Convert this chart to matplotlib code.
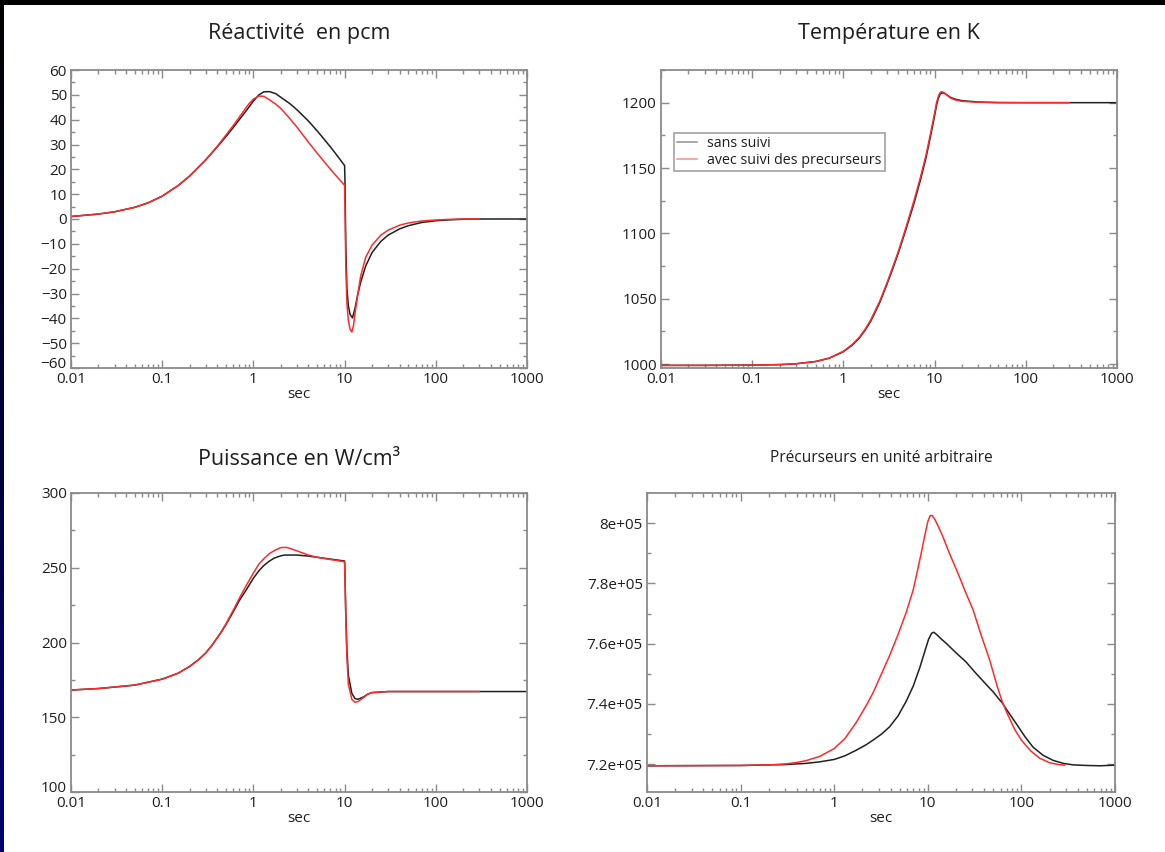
import numpy as np
import matplotlib
matplotlib.use("Agg")
import matplotlib.pyplot as plt
from matplotlib.ticker import LogLocator, NullFormatter
from matplotlib.transforms import ScaledTranslation

plt.rcParams['font.family'] = ['Open Sans', 'DejaVu Sans']

# -----------------------------
# data
# -----------------------------
x_ticks = [0.01, 0.1, 1, 10, 100, 1000]
x_tick_labels = ["0.01", "0.1", "1", "10", "100", "1000"]

# Réactivité (pcm)
reac_t_black = [0.01, 0.02, 0.03, 0.05, 0.07, 0.1, 0.15, 0.2, 0.3, 0.4, 0.5, 0.6, 0.7, 0.85, 1.0, 1.15,
                1.3, 1.5, 1.75, 2.0, 2.5, 3.0, 4.0, 5.0, 6.0, 7.0, 8.5, 10.0, 10.1, 10.3, 10.6, 11.0,
                11.5, 12.2, 13.0, 14.0, 15.0, 17.0, 20.0, 25.0, 30.0, 40.0, 50.0, 70.0, 100.0, 150.0,
                200.0, 300.0, 1000.0]
reac_black = [1.0, 2.0, 2.9, 4.7, 6.5, 9.2, 13.5, 17.3, 23.8, 29.0, 33.2, 36.8, 40.0, 44.0, 47.5, 50.0,
              51.2, 51.3, 50.5, 49.0, 46.5, 44.0, 39.5, 35.5, 32.0, 29.0, 25.0, 21.5, 15.0, -10.0, -28.0,
              -35.0, -38.5, -39.8, -36.0, -30.0, -25.5, -19.0, -13.5, -9.0, -6.5, -4.0, -2.7, -1.4,
              -0.7, -0.3, -0.1, 0.0, 0.0]
reac_t_red = [0.01, 0.02, 0.03, 0.05, 0.07, 0.1, 0.15, 0.2, 0.3, 0.4, 0.5, 0.6, 0.7, 0.8, 0.9, 1.0,
              1.15, 1.3, 1.5, 1.75, 2.0, 2.5, 3.0, 4.0, 5.0, 6.0, 7.0, 8.5, 10.0, 10.1, 10.3, 10.6,
              11.0, 11.5, 12.0, 12.5, 13.0, 14.0, 15.0, 17.0, 20.0, 25.0, 30.0, 40.0, 50.0, 70.0,
              100.0, 150.0, 200.0, 300.0]
reac_red = [1.0, 2.0, 2.9, 4.7, 6.5, 9.2, 13.5, 17.3, 23.8, 29.2, 33.8, 37.6, 41.0, 44.0, 46.5, 48.3,
            49.5, 49.4, 48.0, 46.3, 44.5, 40.5, 37.0, 31.0, 26.5, 23.0, 20.0, 16.5, 13.5, 5.0, -18.0,
            -34.0, -41.0, -44.5, -45.5, -43.0, -38.0, -30.0, -23.0, -15.5, -10.5, -6.5, -4.5, -2.5,
            -1.6, -0.8, -0.4, -0.1, 0.0, 0.0]

# Température (K)
temp_t_black = [0.01, 0.03, 0.1, 0.2, 0.3, 0.5, 0.7, 1.0, 1.25, 1.5, 1.75, 2.0, 2.5, 3.0, 3.5, 4.0,
                4.5, 5.0, 6.0, 7.0, 8.0, 9.0, 10.0, 10.5, 11.0, 11.5, 12.0, 12.7, 13.5, 15.0, 17.0,
                20.0, 25.0, 30.0, 50.0, 100.0, 300.0, 1000.0]
temp_black = [999.0, 999.0, 999.2, 999.6, 1000.2, 1002.0, 1004.5, 1009.5, 1014.5, 1020.0, 1026.5,
              1033.0, 1047.0, 1061.0, 1073.5, 1085.0, 1096.0, 1106.0, 1124.0, 1141.0, 1157.0,
              1174.0, 1190.0, 1198.0, 1203.5, 1206.5, 1207.5, 1207.3, 1206.2, 1204.0, 1202.6,
              1201.5, 1201.0, 1200.5, 1200.1, 1200.0, 1200.0, 1200.0]
temp_t_red = [0.01, 0.03, 0.1, 0.2, 0.3, 0.5, 0.7, 1.0, 1.25, 1.5, 1.75, 2.0, 2.5, 3.0, 3.5, 4.0,
              4.5, 5.0, 6.0, 7.0, 8.0, 9.0, 10.0, 10.5, 11.0, 11.5, 12.0, 12.7, 13.5, 15.0, 17.0,
              20.0, 25.0, 30.0, 50.0, 100.0, 300.0]
temp_red = [999.0, 999.0, 999.2, 999.6, 1000.2, 1002.0, 1004.6, 1009.8, 1015.0, 1020.6, 1027.2,
            1034.0, 1048.0, 1062.0, 1074.8, 1086.2, 1097.3, 1107.5, 1126.0, 1143.0, 1159.0,
            1176.0, 1192.0, 1200.0, 1205.0, 1207.8, 1208.5, 1207.6, 1206.0, 1203.5, 1202.0,
            1201.0, 1200.6, 1200.3, 1200.0, 1200.0, 1200.0]

# Puissance (W/cm3)
puis_t_black = [0.01, 0.02, 0.05, 0.1, 0.15, 0.2, 0.25, 0.3, 0.35, 0.4, 0.45, 0.5, 0.6, 0.7, 0.85,
                1.0, 1.15, 1.3, 1.5, 1.7, 2.0, 2.2, 3.0, 4.0, 5.0, 7.0, 10.0, 10.1, 10.3, 10.6, 11.0,
                12.0, 13.0, 14.0, 16.0, 18.0, 20.0, 30.0, 1000.0]
puis_black = [168.2, 169.2, 171.5, 175.5, 179.5, 184.0, 188.5, 193.0, 198.0, 203.0, 207.5, 212.0,
              220.5, 228.0, 236.0, 243.0, 248.0, 251.5, 254.5, 256.5, 258.0, 258.5, 258.5, 257.8,
              257.0, 255.8, 254.5, 245.0, 220.0, 195.0, 178.0, 166.0, 162.5, 162.0, 163.5, 165.5,
              166.5, 167.2, 167.2]
puis_t_red = [0.01, 0.02, 0.05, 0.1, 0.15, 0.2, 0.25, 0.3, 0.35, 0.4, 0.45, 0.5, 0.6, 0.7, 0.85,
              1.0, 1.15, 1.3, 1.5, 1.7, 2.0, 2.3, 2.5, 3.0, 4.0, 5.0, 7.0, 10.0, 10.1, 10.3, 10.6,
              11.0, 12.0, 13.0, 14.0, 16.0, 18.0, 20.0, 30.0, 300.0]
puis_red = [168.2, 169.2, 171.5, 175.5, 179.5, 184.0, 188.5, 193.0, 198.0, 203.0, 207.8, 212.5,
            221.5, 229.5, 239.0, 246.5, 252.5, 256.0, 259.5, 261.5, 263.5, 263.6, 263.0, 261.3,
            258.5, 257.0, 255.5, 254.0, 244.0, 218.0, 190.0, 172.0, 162.0, 160.0, 160.5, 163.0,
            165.5, 166.5, 167.2, 167.2]

# Précurseurs (unité arbitraire)
prec_t_black = [0.01, 0.1, 0.3, 0.5, 0.7, 1.0, 1.3, 1.73, 2.2, 2.6, 3.2, 3.9, 4.8, 5.9, 7.0, 8.2,
                9.3, 10.2, 11.0, 11.6, 12.5, 14.0, 15.9, 20.0, 25.5, 32.0, 42.0, 50.0, 58.0, 62.0,
                70.0, 88.0, 110.0, 133.0, 170.0, 218.0, 280.0, 357.0, 500.0, 690.0, 1000.0]
prec_black = [7.195e5, 7.196e5, 7.199e5, 7.203e5, 7.208e5, 7.216e5, 7.228e5, 7.247e5, 7.265e5,
              7.28e5, 7.30e5, 7.324e5, 7.36e5, 7.41e5, 7.46e5, 7.52e5, 7.575e5, 7.615e5, 7.635e5,
              7.638e5, 7.63e5, 7.615e5, 7.60e5, 7.57e5, 7.54e5, 7.505e5, 7.465e5, 7.44e5, 7.415e5,
              7.405e5, 7.38e5, 7.335e5, 7.29e5, 7.257e5, 7.23e5, 7.213e5, 7.203e5, 7.198e5,
              7.196e5, 7.195e5, 7.197e5]
prec_t_red = [0.01, 0.1, 0.2, 0.3, 0.4, 0.5, 0.7, 1.0, 1.3, 1.73, 2.2, 2.6, 3.2, 3.9, 4.8, 5.9,
              7.0, 7.6, 8.5, 9.3, 10.0, 10.6, 11.2, 12.0, 12.9, 14.5, 16.5, 19.0, 21.7, 25.0, 30.5,
              37.0, 45.8, 55.0, 62.0, 69.0, 85.0, 100.0, 125.0, 157.0, 200.0, 250.0, 290.0]
prec_red = [7.195e5, 7.196e5, 7.198e5, 7.201e5, 7.206e5, 7.212e5, 7.226e5, 7.252e5, 7.285e5,
            7.34e5, 7.395e5, 7.437e5, 7.50e5, 7.56e5, 7.63e5, 7.705e5, 7.78e5, 7.83e5, 7.90e5,
            7.96e5, 8.005e5, 8.025e5, 8.025e5, 8.01e5, 7.99e5, 7.955e5, 7.91e5, 7.865e5, 7.823e5,
            7.775e5, 7.712e5, 7.63e5, 7.546e5, 7.46e5, 7.41e5, 7.375e5, 7.315e5, 7.28e5, 7.245e5,
            7.22e5, 7.205e5, 7.199e5, 7.197e5]
prec_ticks = [7.2e5, 7.4e5, 7.6e5, 7.8e5, 8.0e5]
prec_tick_labels = ["7.2e+05", "7.4e+05", "7.6e+05", "7.8e+05", "8e+05"]

BLACK = "#202020"
RED = "#ff2a2a"
SPINE = "#8a8a8a"
TXT = "#1e1e1e"


def style_axis(ax, ylim, yticks, yminor):
    ax.set_xscale("log")
    ax.set_xlim(0.01, 1000)
    ax.set_ylim(*ylim)
    ax.set_xticks(x_ticks)
    ax.set_xticklabels(x_tick_labels)
    ax.xaxis.set_minor_locator(LogLocator(base=10, subs=np.arange(2, 10), numticks=20))
    ax.xaxis.set_minor_formatter(NullFormatter())
    ax.set_yticks(yticks)
    ax.set_yticks(yminor, minor=True)
    for s in ax.spines.values():
        s.set_color(SPINE)
        s.set_linewidth(1.3)
    ax.tick_params(which="both", direction="in", top=True, right=True, color=SPINE, width=1.0,
                   labelsize=11, labelcolor=TXT, pad=3)
    ax.tick_params(which="major", length=6)
    ax.tick_params(which="minor", length=3)
    ax.set_xlabel("sec", fontsize=11, color=TXT, labelpad=0)


def lift_bottom_label(ax, fig, px=6):
    # keep the lowest y label clear of the "0.01" x label
    lab = ax.yaxis.get_major_ticks()[0].label1
    lab.set_transform(lab.get_transform() + ScaledTranslation(0, px / 100, fig.dpi_scale_trans))


fig = plt.figure(figsize=(11.65, 8.52), dpi=100)
fig.patch.set_facecolor("white")

# dark frame on top and left like the slide background
frame = fig.add_axes([0, 0, 4 / 1165, 1])
frame.imshow(np.linspace(0, 1, 256).reshape(-1, 1), aspect="auto",
             cmap=matplotlib.colors.LinearSegmentedColormap.from_list("f", ["#000000", "#000070"]),
             extent=[0, 1, 0, 1], origin="upper")
frame.axis("off")
top = fig.add_axes([0, 1 - 5 / 852, 1, 5 / 852])
top.axis("off")
top.add_patch(plt.Rectangle((0, 0), 1, 1, color="black", transform=top.transAxes))

# 🔹 Réactivité
ax1 = fig.add_axes([71 / 1165, (852 - 368) / 852, 456 / 1165, 298 / 852])
ax1.plot(reac_t_black, reac_black, color=BLACK, lw=1.1)
ax1.plot(reac_t_red, reac_red, color=RED, lw=1.1)
style_axis(ax1, (-60, 60), np.arange(-60, 61, 10), np.arange(-55, 60, 10))
ax1.set_title("Réactivité  en pcm", fontsize=15.5, color=TXT, pad=22)
lift_bottom_label(ax1, fig)

# 🔹 Température
ax2 = fig.add_axes([661 / 1165, (852 - 368) / 852, 456 / 1165, 298 / 852])
ax2.plot(temp_t_black, temp_black, color=BLACK, lw=1.1, label="sans suivi")
ax2.plot(temp_t_red, temp_red, color=RED, lw=1.1, label="avec suivi des precurseurs")
style_axis(ax2, (997, 1225), np.arange(1000, 1201, 50), np.arange(1025, 1226, 50))
ax2.set_title("Température en K", fontsize=15.5, color=TXT, pad=22)
leg = ax2.legend(loc="upper left", bbox_to_anchor=(0.028, 0.79), fontsize=10.3, frameon=True,
                 fancybox=False, handlelength=1.4, handletextpad=0.7, borderpad=0.25,
                 labelspacing=0.1, borderaxespad=0)
leg.get_frame().set_edgecolor(SPINE)
leg.get_frame().set_linewidth(1.2)
for t in leg.get_texts():
    t.set_color(TXT)
leg_lines = leg.get_lines()
leg_lines[0].set_color("#909090")
leg_lines[1].set_color("#ff8a8a")

# 🔹 Puissance
ax3 = fig.add_axes([71 / 1165, (852 - 792) / 852, 456 / 1165, 299 / 852])
ax3.plot(puis_t_black, puis_black, color=BLACK, lw=1.1)
ax3.plot(puis_t_red, puis_red, color=RED, lw=1.1)
style_axis(ax3, (100, 300), np.arange(100, 301, 50), np.arange(125, 300, 50))
ax3.set_title("Puissance en W/cm³", fontsize=15.5, color=TXT, pad=20)
lift_bottom_label(ax3, fig)

# 🔹 Précurseurs
ax4 = fig.add_axes([647 / 1165, (852 - 792) / 852, 468 / 1165, 299 / 852])
ax4.plot(prec_t_black, prec_black, color=BLACK, lw=1.1)
ax4.plot(prec_t_red, prec_red, color=RED, lw=1.1)
style_axis(ax4, (7.108e5, 8.1e5), prec_ticks, [7.3e5, 7.5e5, 7.7e5, 7.9e5])
ax4.set_yticklabels(prec_tick_labels)
ax4.set_title("Précurseurs en unité arbitraire", fontsize=11.2, color=TXT, pad=22)

fig.savefig("out.png", dpi=100, facecolor=fig.get_facecolor())
